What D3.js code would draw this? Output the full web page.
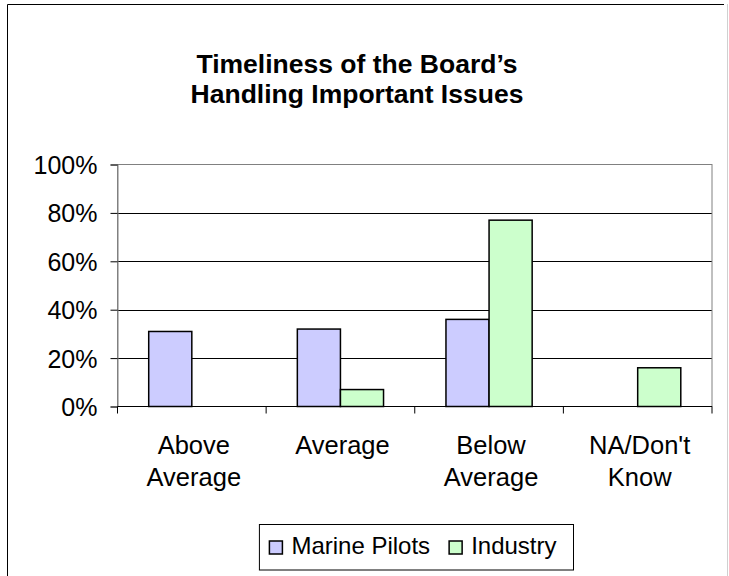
<!DOCTYPE html>
<html>
<head>
<meta charset="utf-8">
<script src="https://cdn.jsdelivr.net/npm/d3@7"></script>
<style>
  body { margin: 0; background: #fff; }
  svg text { font-family: "Liberation Sans", Arial, sans-serif; fill: #000; }
</style>
</head>
<body>
<div id="chart"></div>
<script>
// chart data
var categories = ["Above Average", "Average", "Below Average", "NA/Don't Know"];
var categoryLines = [["Above", "Average"], ["Average"], ["Below", "Average"], ["NA/Don't", "Know"]];
var seriesNames = ["Marine Pilots", "Industry"];
var marinePilots = [0.31, 0.32, 0.36, 0];
var industry = [0, 0.07, 0.77, 0.16];
var yTicks = [0, 0.2, 0.4, 0.6, 0.8, 1.0];
var titleLines = ["Timeliness of the Board\u2019s", "Handling Important Issues"];

var colors = { "Marine Pilots": "#ccccff", "Industry": "#ccffcc" };

var width = 729, height = 576;
var plot = { left: 117.5, right: 712, top: 164.5, bottom: 406.5 };

var svg = d3.select("#chart").append("svg")
    .attr("width", width)
    .attr("height", height);

// outer chart frame (top + left black, right faint)
svg.append("path")
    .attr("d", "M7.5," + height + "V4.5H724")
    .attr("fill", "none")
    .attr("stroke", "#000");
svg.append("line")
    .attr("x1", 727.5).attr("x2", 727.5)
    .attr("y1", 4).attr("y2", height)
    .attr("stroke", "#d0d0d0");

// title
svg.append("text")
    .attr("text-anchor", "middle")
    .attr("font-weight", "bold")
    .style("font-size", "26.5px")
    .selectAll("tspan")
    .data(titleLines)
    .enter().append("tspan")
    .attr("x", 357)
    .attr("y", function(d, i) { return 73 + i * 30; })
    .text(function(d) { return d; });

var x = d3.scaleBand()
    .domain(categories)
    .range([plot.left, plot.right])
    .paddingInner(0)
    .paddingOuter(0);

var barW = x.bandwidth() * 0.29;
var x1 = d3.scaleBand()
    .domain(seriesNames)
    .range([x.bandwidth() / 2 - barW, x.bandwidth() / 2 + barW]);

var y = d3.scaleLinear()
    .domain([0, 1])
    .range([plot.bottom, plot.top]);

// gridlines
svg.append("g")
    .selectAll("line")
    .data(yTicks.slice(1, -1))
    .enter().append("line")
    .attr("x1", plot.left).attr("x2", plot.right)
    .attr("y1", function(d) { return Math.round(y(d)) + 0.5; })
    .attr("y2", function(d) { return Math.round(y(d)) + 0.5; })
    .attr("stroke", "#000");

// plot area border
svg.append("rect")
    .attr("x", plot.left)
    .attr("y", plot.top)
    .attr("width", plot.right - plot.left)
    .attr("height", plot.bottom - plot.top)
    .attr("fill", "none")
    .attr("stroke", "#808080");

// bars
var rows = categories.map(function(c, i) {
    return { cat: c, values: [
        { name: seriesNames[0], value: marinePilots[i] },
        { name: seriesNames[1], value: industry[i] }
    ] };
});

svg.append("g")
    .selectAll("g")
    .data(rows)
    .enter().append("g")
    .attr("transform", function(d) { return "translate(" + x(d.cat) + ",0)"; })
    .selectAll("rect")
    .data(function(d) { return d.values.filter(function(v) { return v.value > 0; }); })
    .enter().append("rect")
    .attr("x", function(d) { return x1(d.name); })
    .attr("y", function(d) { return y(d.value); })
    .attr("width", x1.bandwidth())
    .attr("height", function(d) { return y(0) - y(d.value); })
    .attr("fill", function(d) { return colors[d.name]; })
    .attr("stroke", "#000")
    .attr("stroke-width", 1.5);

// y axis
var yAxis = svg.append("g")
    .attr("transform", "translate(" + plot.left + ",0)")
    .call(d3.axisLeft(y).tickValues(yTicks).tickFormat(d3.format(".0%")).tickSizeOuter(0).tickSize(7).tickPadding(13));
yAxis.select(".domain").attr("stroke", "#808080");
yAxis.selectAll(".tick line").attr("stroke", "#000");
yAxis.selectAll(".tick text")
    .style("font-size", "25px")
    .attr("dy", "0.36em");

// x axis
var xAxis = svg.append("g")
    .attr("transform", "translate(0," + plot.bottom + ")");
xAxis.append("line")
    .attr("x1", plot.left).attr("x2", plot.right)
    .attr("y1", 0).attr("y2", 0)
    .attr("stroke", "#000");
xAxis.selectAll("line.tick")
    .data(categories.concat(["end"]))
    .enter().append("line")
    .attr("class", "tick")
    .attr("x1", function(d) { return d === "end" ? plot.right : x(d); })
    .attr("x2", function(d) { return d === "end" ? plot.right : x(d); })
    .attr("y1", 0).attr("y2", 7)
    .attr("stroke", "#000");

xAxis.selectAll("text")
    .data(categories)
    .enter().append("text")
    .attr("text-anchor", "middle")
    .style("font-size", "25.5px")
    .each(function(d, i) {
        d3.select(this).selectAll("tspan")
            .data(categoryLines[i])
            .enter().append("tspan")
            .attr("x", x(d) + x.bandwidth() / 2 + 2)
            .attr("y", function(t, j) { return 47 + j * 32; })
            .text(function(t) { return t; });
    });

// legend
var legend = svg.append("g");
var legendBox = legend.append("rect")
    .attr("fill", "#fff")
    .attr("stroke", "#000");
var items = legend.selectAll("g.item")
    .data(seriesNames)
    .enter().append("g")
    .attr("class", "item");
items.append("rect")
    .attr("width", 13).attr("height", 13)
    .attr("fill", function(d) { return colors[d]; })
    .attr("stroke", "#000")
    .attr("stroke-width", 1.5);
items.append("text")
    .attr("x", 22)
    .attr("y", 12.5)
    .style("font-size", "24px")
    .text(function(d) { return d; });

var pos = 0, offsets = [];
items.each(function(d) {
    offsets.push(pos);
    pos += 22 + d3.select(this).select("text").node().getComputedTextLength() + 19;
});
var legendW = pos - 19 + 10 + 17;
var legendRight = 573.5;
var legendLeft = legendRight - legendW;
items.attr("transform", function(d, i) { return "translate(" + (legendLeft + 10 + offsets[i]) + ",541)"; });
legendBox
    .attr("x", legendLeft)
    .attr("y", 524.5)
    .attr("width", legendW)
    .attr("height", 45.5);
</script>
</body>
</html>
